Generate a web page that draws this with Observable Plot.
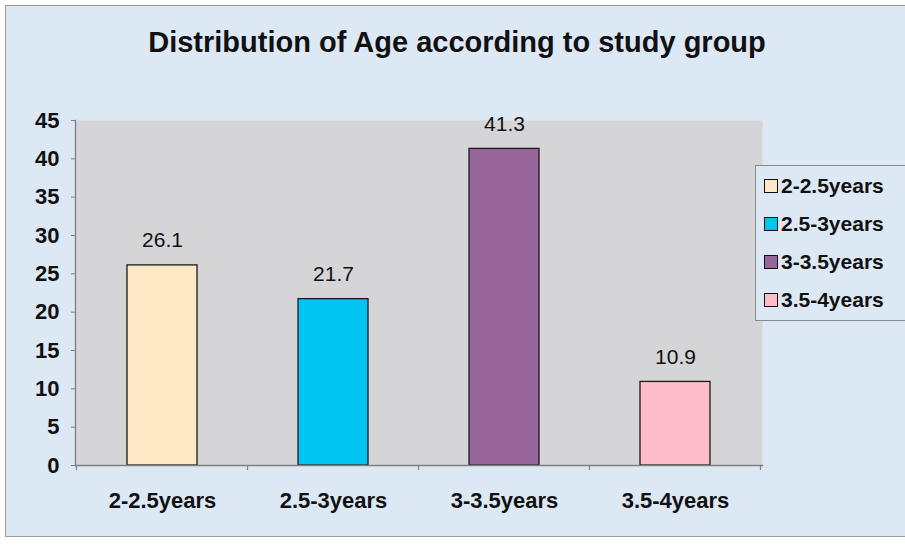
<!DOCTYPE html>
<html>
<head>
<meta charset="utf-8">
<script src="https://cdn.jsdelivr.net/npm/d3@7"></script>
<script src="https://cdn.jsdelivr.net/npm/@observablehq/plot@0.6"></script>
<style>
  html, body { margin: 0; padding: 0; background: #ffffff; }
  body { width: 905px; height: 546px; overflow: hidden; position: relative; font-family: "Liberation Sans", Arial, sans-serif; }
  #frame { position: absolute; left: 5px; top: 5px; width: 910px; height: 532px; border: 1px solid #9a9a9a; background: #dde8f5; box-sizing: border-box; }
  #chart { position: absolute; left: 0; top: 0; }
  #title { position: absolute; left: 0; width: 914px; top: 28px; text-align: center; font-weight: bold; font-size: 29px; line-height: 28px; color: #111; }
  #legend { position: absolute; left: 755px; top: 165px; width: 170px; height: 156px; border: 1px solid #8a8a8a; background: #dde8f5; box-sizing: border-box; }
  .item { position: absolute; left: 8px; height: 22px; display: flex; align-items: center; font-size: 21px; font-weight: bold; color: #111; white-space: nowrap; }
  .sw { width: 14px; height: 14px; border: 1.5px solid #111; box-sizing: border-box; margin-right: 3px; }
</style>
</head>
<body>
<div id="frame"></div>
<div id="chart"></div>
<div id="title">Distribution of Age according to study group</div>
<div id="legend"></div>
<script>
const categories = ["2-2.5years", "2.5-3years", "3-3.5years", "3.5-4years"];
const values = [26.1, 21.7, 41.3, 10.9];
const colors = ["#fde8c6", "#00c4f2", "#98669a", "#fdbcc8"];
const yTicks = [0, 5, 10, 15, 20, 25, 30, 35, 40, 45];

const data = categories.map((c, i) => ({cat: c, value: values[i]}));

// boundary tick marks at band edges, computed from Plot's x scale
function bandEdgeTicks(index, scales, values, dims, context) {
  const g = d3.create("svg:g");
  const x = scales.x;
  const bw = x.bandwidth ? x.bandwidth() : 0;
  const step = x.step ? x.step() : bw;
  const starts = categories.map(c => x(c) - (step - bw) / 2);
  starts.push(starts[starts.length - 1] + step);
  const y0 = dims.height - dims.marginBottom;
  for (const s of starts) {
    g.append("line").attr("x1", s).attr("x2", s).attr("y1", y0).attr("y2", y0 + 5)
      .attr("stroke", "#808080").attr("stroke-width", 1.2);
  }
  return g.node();
}

const chart = Plot.plot({
  width: 905,
  height: 546,
  marginLeft: 75,
  marginRight: 143,
  marginTop: 120,
  marginBottom: 81,
  style: {background: "transparent", fontFamily: "'Liberation Sans', Arial, sans-serif", color: "#111"},
  x: {domain: categories, paddingInner: 0.59, paddingOuter: 0.295, align: 0.5},
  y: {domain: [0, 45]},
  color: {domain: categories, range: colors},
  marks: [
    Plot.frame({fill: "#d5d5d8", stroke: null}),
    Plot.barY(data, {x: "cat", y: "value", fill: "cat", stroke: "#1a1a1a", strokeWidth: 1.3}),
    Plot.frame({anchor: "left", stroke: "#808080", strokeWidth: 1.3}),
    Plot.frame({anchor: "bottom", stroke: "#808080", strokeWidth: 1.3}),
    Plot.axisY({ticks: yTicks, tickSize: 4, tickPadding: 12, fontSize: 22, fontWeight: "bold", stroke: "#808080", label: null, tickFormat: d => String(d)}),
    Plot.axisX({tickSize: 0, tickPadding: 27, fontSize: 22, fontWeight: "bold", label: null}),
    bandEdgeTicks,
    Plot.text(data, {x: "cat", y: "value", text: d => d.value.toFixed(1), dy: -18, lineAnchor: "bottom", fontSize: 21, fill: "#111"})
  ]
});
document.getElementById("chart").appendChild(chart);

const legend = document.getElementById("legend");
const tops = [9, 47, 85, 123];
categories.forEach((c, i) => {
  const it = document.createElement("div");
  it.className = "item";
  it.style.top = tops[i] + "px";
  const sw = document.createElement("div");
  sw.className = "sw";
  sw.style.background = colors[i];
  const t = document.createElement("span");
  t.textContent = c;
  it.appendChild(sw);
  it.appendChild(t);
  legend.appendChild(it);
});
</script>
</body>
</html>
